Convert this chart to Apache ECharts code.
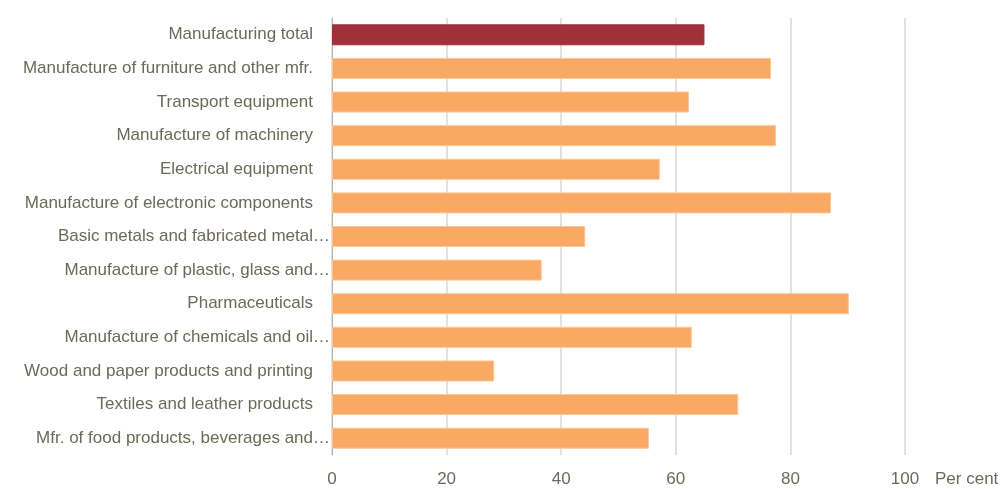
<!DOCTYPE html>
<html>
<head>
<meta charset="utf-8">
<style>
  html, body { margin: 0; padding: 0; background: #ffffff; }
  #chart { width: 1002px; height: 489px; }
</style>
<script src="https://cdn.jsdelivr.net/npm/echarts@6/dist/echarts.min.js"></script>
</head>
<body>
<div id="chart"></div>
<script>
// Industry labels, top to bottom as drawn
const categories = [
  'Manufacturing total',
  'Manufacture of furniture and other mfr.',
  'Transport equipment',
  'Manufacture of machinery',
  'Electrical equipment',
  'Manufacture of electronic components',
  'Basic metals and fabricated metal…',
  'Manufacture of plastic, glass and…',
  'Pharmaceuticals',
  'Manufacture of chemicals and oil…',
  'Wood and paper products and printing',
  'Textiles and leather products',
  'Mfr. of food products, beverages and…'
];

// Share, per cent
const values = [65, 76.6, 62.3, 77.5, 57.2, 87.1, 44.2, 36.6, 90.2, 62.8, 28.3, 70.9, 55.3];

const xTicks = [0, 20, 40, 60, 80, 100];
const axisName = 'Per cent';

const totalColor = '#a0303a';
const barColor = '#f9a963';
const textColor = '#6b6a58';
const font = '"Liberation Sans Narrow", "Liberation Sans", Arial, sans-serif';

// ECharts category axes run bottom-to-top, so reverse the lists
const yCats = categories.slice().reverse();
const yVals = values.slice().reverse().map((v, i) => {
  const isTotal = yCats[i] === 'Manufacturing total';
  return {
    value: v,
    itemStyle: {
      color: isTotal ? totalColor : barColor,
      borderColor: isTotal ? totalColor : '#fcc796',
      borderWidth: 1
    }
  };
});

const chart = echarts.init(document.getElementById('chart'), null, { renderer: 'canvas' });
chart.setOption({
  animation: false,
  grid: { left: 332, right: 97, top: 18, bottom: 34, containLabel: false },
  xAxis: {
    type: 'value',
    min: xTicks[0],
    max: xTicks[xTicks.length - 1],
    interval: 20,
    name: axisName,
    nameLocation: 'end',
    nameGap: 30,
    nameTextStyle: {
      color: textColor, fontFamily: font, fontSize: 17,
      align: 'left', verticalAlign: 'top', padding: [16, 0, 0, 0]
    },
    axisLine: { show: false },
    axisTick: { show: false },
    axisLabel: { color: textColor, fontFamily: font, fontSize: 17, margin: 16 },
    splitLine: { show: true, lineStyle: { color: '#d9d9d1', width: 1.5 } }
  },
  yAxis: {
    type: 'category',
    data: yCats,
    axisLine: { show: true, lineStyle: { color: '#b3b3ab', width: 1 } },
    axisTick: { show: false },
    axisLabel: {
      color: textColor, fontFamily: font, fontSize: 17, margin: 2,
      formatter: v => v.endsWith('…') ? '{t|' + v + '}' : '{p|' + v + '}',
      rich: {
        t: { color: textColor, fontFamily: font, fontSize: 17 },
        p: { color: textColor, fontFamily: font, fontSize: 17, padding: [0, 17, 0, 0] }
      }
    }
  },
  series: [{
    type: 'bar',
    data: yVals,
    barWidth: 21
  }]
});
</script>
</body>
</html>
